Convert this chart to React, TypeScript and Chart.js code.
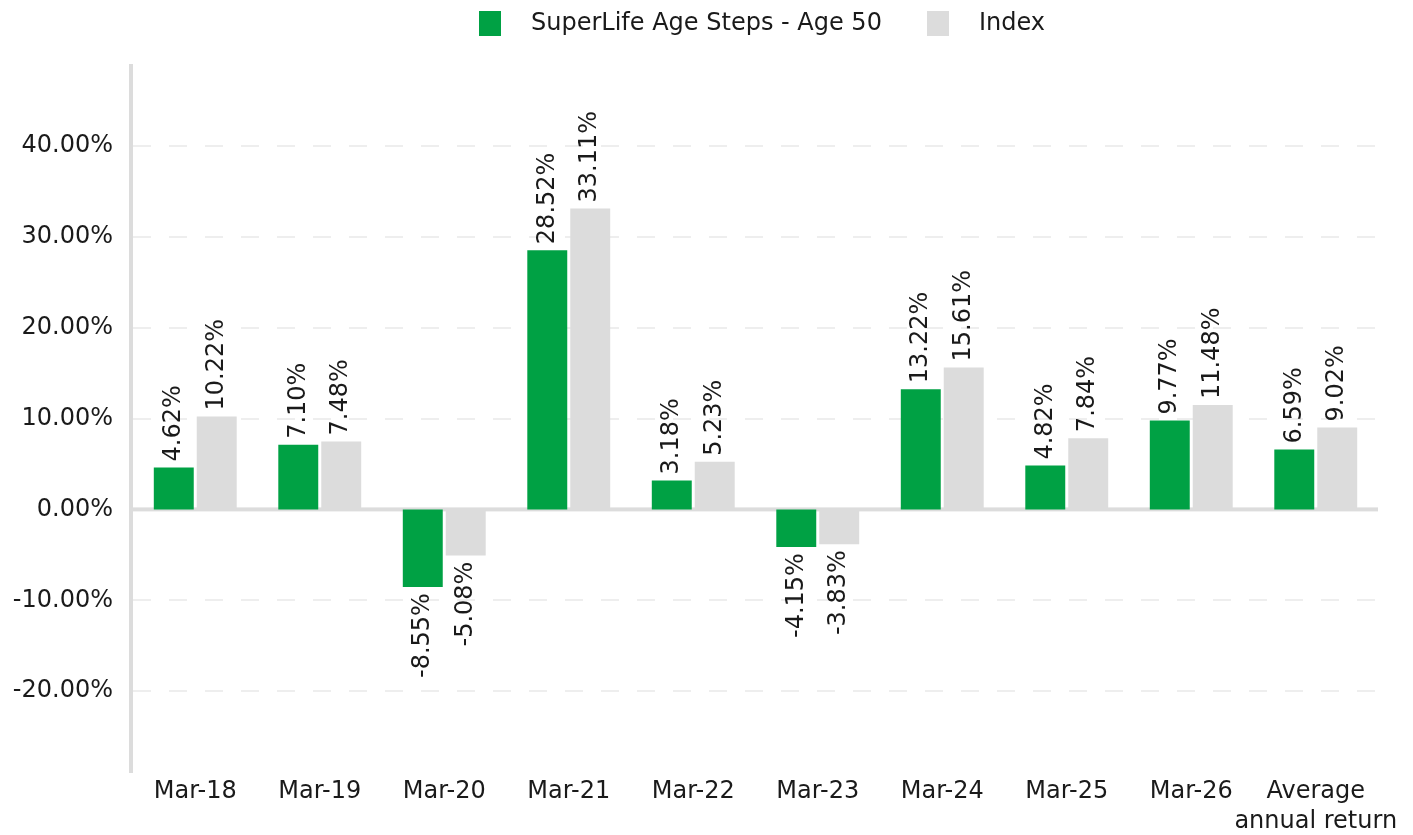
import React, { useEffect, useRef } from 'react';
import { Chart, registerables } from 'chart.js';

Chart.register(...registerables);

const categories: (string | string[])[] = [
  'Mar-18', 'Mar-19', 'Mar-20', 'Mar-21', 'Mar-22',
  'Mar-23', 'Mar-24', 'Mar-25', 'Mar-26', ['Average', 'annual return'],
];
const fundLabel = 'SuperLife Age Steps - Age 50';
const fundValues = [4.62, 7.10, -8.55, 28.52, 3.18, -4.15, 13.22, 4.82, 9.77, 6.59];
const indexLabel = 'Index';
const indexValues = [10.22, 7.48, -5.08, 33.11, 5.23, -3.83, 15.61, 7.84, 11.48, 9.02];
const yTicks = [-20, -10, 0, 10, 20, 30, 40];
const yMin = -29;
const yMax = 49;

const GREEN = '#00A144';
const GREY = '#DCDCDC';
const AXIS = '#DCDCDC';
const GRID = '#EEEEEE';
const TEXT = '#1A1A1A';
const FONT = '"DejaVu Sans", Verdana, sans-serif';

const fmt = (v: number) => v.toFixed(2) + '%';

const axisLinesPlugin = {
  id: 'axisLines',
  beforeDatasetsDraw(chart: any) {
    const { ctx, chartArea } = chart;
    const y = chart.scales.y;
    ctx.save();
    // dashed grid lines
    ctx.strokeStyle = GRID;
    ctx.lineWidth = 2;
    ctx.setLineDash([18, 18]);
    ctx.lineDashOffset = 0;
    y.ticks.forEach((t: any) => {
      if (t.value === 0) return;
      const py = Math.round(y.getPixelForValue(t.value));
      ctx.beginPath();
      ctx.moveTo(chartArea.left, py);
      ctx.lineTo(chartArea.right, py);
      ctx.stroke();
    });
    ctx.setLineDash([]);
    ctx.fillStyle = AXIS;
    // y axis line
    ctx.fillRect(chartArea.left - 4, chartArea.top, 4, chartArea.bottom - chartArea.top);
    // zero line
    const y0 = y.getPixelForValue(0);
    ctx.fillRect(chartArea.left - 4, y0 - 2, chartArea.right - chartArea.left + 4, 4);
    ctx.restore();
  },
};

const valueLabelsPlugin = {
  id: 'valueLabels',
  afterDatasetsDraw(chart: any) {
    const { ctx } = chart;
    ctx.save();
    ctx.font = `24px ${FONT}`;
    ctx.fillStyle = TEXT;
    ctx.textBaseline = 'middle';
    chart.data.datasets.forEach((ds: any, di: number) => {
      const meta = chart.getDatasetMeta(di);
      meta.data.forEach((bar: any, i: number) => {
        const v = ds.data[i] as number;
        const off = 6;
        ctx.save();
        ctx.translate(bar.x, v >= 0 ? bar.y - off : bar.y + off);
        ctx.rotate(-Math.PI / 2);
        ctx.textAlign = v >= 0 ? 'left' : 'right';
        ctx.fillText(fmt(v), 0, 0);
        ctx.restore();
      });
    });
    ctx.restore();
  },
};

const legendPlugin = {
  id: 'customLegend',
  afterDraw(chart: any) {
    const { ctx } = chart;
    const items = [
      { label: fundLabel, color: GREEN, boxX: 479, textX: 531 },
      { label: indexLabel, color: GREY, boxX: 927, textX: 979 },
    ];
    ctx.save();
    ctx.font = `24px ${FONT}`;
    ctx.textBaseline = 'middle';
    ctx.textAlign = 'left';
    items.forEach((it) => {
      ctx.fillStyle = it.color;
      ctx.fillRect(it.boxX, 11, 22, 25);
      ctx.fillStyle = TEXT;
      ctx.fillText(it.label, it.textX, 24);
    });
    ctx.restore();
  },
};

export default function App() {
  const canvasRef = useRef<HTMLCanvasElement | null>(null);

  useEffect(() => {
    document.body.style.margin = '0';
    const canvas = canvasRef.current;
    if (!canvas) return;
    const chart = new Chart(canvas, {
      type: 'bar',
      data: {
        labels: categories,
        datasets: [
          {
            label: fundLabel,
            data: fundValues,
            backgroundColor: GREEN,
            borderWidth: 0,
            barPercentage: 0.93,
            categoryPercentage: 0.69,
          },
          {
            label: indexLabel,
            data: indexValues,
            backgroundColor: GREY,
            borderWidth: 0,
            barPercentage: 0.93,
            categoryPercentage: 0.69,
          },
        ],
      },
      options: {
        responsive: false,
        maintainAspectRatio: false,
        animation: false,
        events: [],
        layout: { padding: { top: 64, right: 35, left: 0, bottom: 0 } },
        plugins: {
          legend: { display: false },
          tooltip: { enabled: false },
          title: { display: false },
        },
        scales: {
          x: {
            grid: { display: false, drawTicks: false },
            border: { display: false },
            ticks: {
              color: TEXT,
              font: { family: FONT, size: 24, lineHeight: 1.25 },
              padding: 4,
              maxRotation: 0,
              autoSkip: false,
            },
            afterFit: (s: any) => {
              s.height = 62;
            },
          },
          y: {
            min: yMin,
            max: yMax,
            afterBuildTicks: (s: any) => {
              s.ticks = yTicks.map((v) => ({ value: v }));
            },
            afterFit: (s: any) => {
              s.width = 133;
            },
            grid: { display: false, drawTicks: false },
            border: { display: false },
            ticks: {
              color: TEXT,
              font: { family: FONT, size: 24 },
              padding: 20,
              callback: (v: any) => fmt(Number(v)),
            },
          },
        },
      },
      plugins: [axisLinesPlugin, valueLabelsPlugin, legendPlugin],
    } as any);
    return () => {
      chart.destroy();
    };
  }, []);

  return (
    <div style={{ width: 1413, height: 835, position: 'relative' }}>
      <canvas ref={canvasRef} width={1413} height={835} style={{ display: 'block' }} />
    </div>
  );
}
